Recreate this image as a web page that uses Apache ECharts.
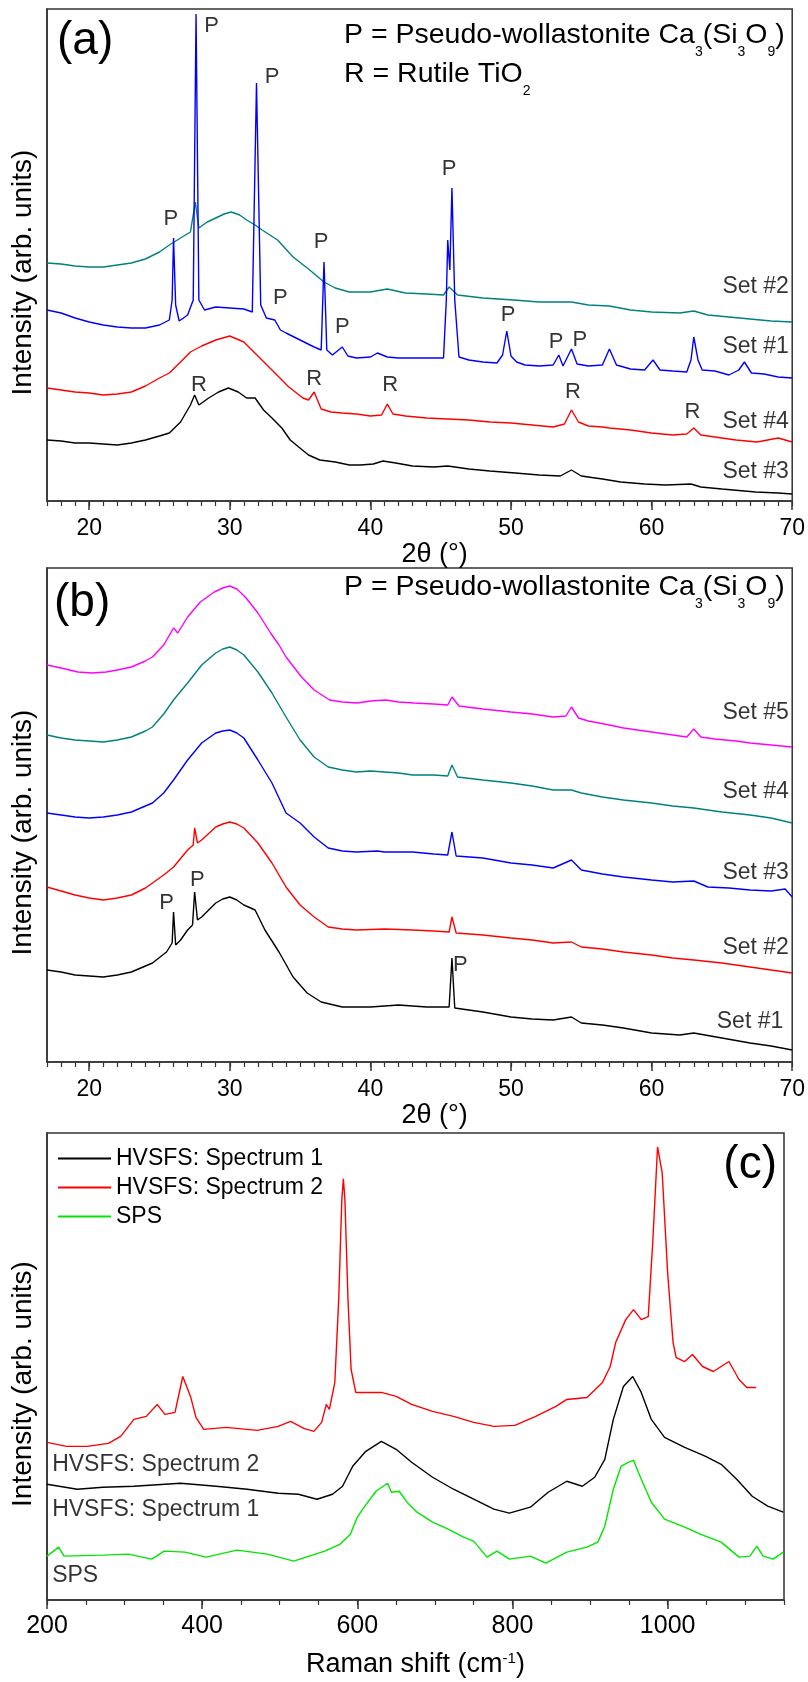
<!DOCTYPE html>
<html><head><meta charset="utf-8">
<script src="https://cdn.jsdelivr.net/npm/echarts@6/dist/echarts.min.js"></script>
<style>html,body{margin:0;padding:0;background:#fff}#c{width:808px;height:1682px}</style>
</head><body><div id="c"></div>
<script>
const FONT = '"Liberation Sans", Arial, sans-serif';

// ---------- Panel (a): XRD, 2θ (°) vs intensity (arb. units, stacked) ----------
const a_ticks = [20, 30, 40, 50, 60, 70];
const a_set3 = [[17,61],[18,60],[19,58],[20,58],[21,57],[22,56],[23,58],[24,61],[25,65],[25.7,68],[26.5,79],[27.2,96],[27.5,106],[27.8,96],[28.5,103],[29.2,109],[29.9,113],[30.6,109],[31.2,103],[31.8,103],[32.4,91],[33,83],[33.7,73],[34.3,61],[34.9,54],[35.6,46],[36.4,41],[37.5,39],[38.5,36],[39.3,36],[40.2,37],[40.9,40],[41.8,38],[43,35],[44.5,34],[45.5,35],[47,32],[48.5,30],[50.3,28],[52,26],[53.5,25],[54.3,31],[55,25],[56.5,22],[57.8,19],[59.5,17],[61,16],[62.8,17],[63.5,14],[65,12],[67.4,9],[69,8],[70,7]];
const a_set4 = [[17,113],[18,111],[19,109],[20,108],[21,106],[22,107],[23,109],[24,115],[25,123],[25.7,128],[26.5,139],[27.2,149],[28,155],[29,161],[30,165],[31,159],[32,145],[33,131],[34.2,114],[35.2,103],[35.6,101],[36.0,109],[36.5,92],[37.2,89],[38,88],[39,87],[40,85],[40.8,86],[41.2,97],[41.6,87],[42.5,85],[44,83],[45.5,82],[47,81],[48.5,79],[50,78],[51.5,76],[53,74],[53.8,77],[54.3,91],[54.8,79],[55.5,75],[56.5,74],[57,73],[58.5,71],[60,68],[61.5,66],[62.5,67],[63,73],[63.5,66],[64.5,64],[66,61],[67.5,59],[69,63],[69.5,61],[70,59]];
const a_set1 = [[17,191],[18,188],[19,183],[20,179],[21,176],[22,174],[23,173],[24,173],[25,176],[25.7,181],[25.9,201],[26.0,263],[26.15,196],[26.4,180],[27,186],[27.4,201],[27.6,487],[27.8,201],[28.2,191],[29,194],[30,193],[31,192],[31.6,189],[31.9,418],[32.2,196],[32.6,183],[33.2,181],[33.6,171],[34,168],[35,161],[36,154],[36.5,151],[36.7,239],[36.9,151],[37.3,146],[38.0,154],[38.4,145],[39,143],[40,144],[40.5,148],[41.2,144],[42,143],[43,143],[44,143],[45.2,143],[45.4,201],[45.5,261],[45.65,231],[45.8,313],[46.0,201],[46.3,144],[47,141],[48,139],[49,138],[49.4,146],[49.7,170],[50.0,145],[50.4,139],[51,136],[52,135],[53,136],[53.4,146],[53.7,135],[54.3,152],[54.7,137],[55.5,135],[56.5,136],[57.0,152],[57.5,136],[58.5,132],[59.5,131],[60.1,141],[60.6,131],[61.5,130],[62.5,129],[62.8,141],[63.0,164],[63.3,141],[63.6,131],[64.5,130],[65.5,126],[66.2,131],[66.6,139],[67.1,128],[68,127],[69,124],[70,123]];
const a_set2 = [[17,238],[18,237],[19,235],[20,234],[21,234],[22,236],[23,238],[24,242],[25,249],[25.7,256],[26.5,263],[27.2,269],[27.55,299],[27.8,273],[28.4,279],[29,283],[29.6,287],[30.1,289],[30.7,286],[31.2,281],[31.8,276],[32.3,271],[33.4,261],[34.5,244],[35.6,232],[36.7,219],[37.5,213],[38.5,209],[40,209],[41.2,212],[42.5,208],[44,207],[45.2,206],[45.6,214],[46.2,206],[48,203],[50.2,201],[52,199],[54.3,199],[55.5,196],[57,195],[58.5,191],[60,189],[62,188],[63,190],[64,186],[65.5,184],[67,182],[68.5,180],[70,179]];
const a_peakLabels = [[28.7,475,'P'],[33.0,424,'P'],[25.8,282,'P'],[36.5,259,'P'],[45.6,332,'P'],[33.6,203,'P'],[38.0,174,'P'],[49.8,186,'P'],[53.2,159,'P'],[54.9,161,'P'],[27.8,116,'R'],[36.0,122,'R'],[41.4,116,'R'],[54.4,109,'R'],[62.9,89,'R']];
const a_setLabels = [[69.8,214,'Set #2'],[69.8,154,'Set #1'],[69.8,79,'Set #4'],[69.8,29,'Set #3']];

// ---------- Panel (b) ----------
const b_ticks = [20, 30, 40, 50, 60, 70];
const b_set5 = [[17,397],[18,394],[19.2,390],[20.2,389],[21.2,390],[22,392],[23,395],[24,401],[24.5,405],[25.3,417],[26.0,434],[26.3,429],[27,445],[27.9,460],[28.9,470],[29.5,474],[30,476],[30.5,473],[31.1,465],[31.5,458],[32,449],[32.9,429],[33.5,417],[34,405],[35.1,385],[36,372],[37.1,362],[38,360],[39.1,359],[40,361],[41.1,362],[42,360],[43.1,359],[44.5,358],[45.5,357],[45.8,365],[46.3,356],[48,353],[50,350],[51.5,348],[53,345],[53.9,346],[54.3,355],[54.8,344],[55.5,341],[57,337],[58,334],[59,332],[60,330],[61.5,327],[62.5,325],[63,333],[63.5,325],[64.5,323],[66,321],[67,319],[68.5,317],[70,315]];
const b_set4 = [[17,327],[18,324],[19,322],[20,321],[21,320],[22,322],[23,325],[24,331],[24.5,335],[25.3,348],[26,362],[27,379],[28,397],[29,409],[29.5,413],[30,415],[30.5,412],[31,407],[32,390],[33,369],[34,345],[35,322],[36,305],[37,295],[38,292],[39,290],[40,291],[41,290],[42,289],[43,287],[44.5,287],[45.5,286],[45.8,297],[46.2,285],[48,282],[50,279],[51.5,276],[53,272],[54.3,272],[55,269],[56.5,265],[58,262],[60,259],[61.5,256],[63,254],[65,250],[67,247],[68.5,244],[70,239]];
const b_set3 = [[17,249],[18,247],[19,245],[20,244],[21,245],[22,247],[23,250],[24,256],[24.5,259],[25.3,269],[26,282],[27,302],[28,319],[29,329],[29.5,331],[30,332],[30.5,329],[31,324],[32,302],[33,279],[34,249],[35,239],[36,225],[37,214],[38,211],[39,210],[40.5,211],[41,210],[43,210],[44.5,208],[45.5,207],[45.8,230],[46.1,206],[48,204],[50,199],[51.5,197],[53,194],[54.3,202],[55,192],[56.5,188],[58,185],[60,182],[61.5,180],[63,181],[64,175],[65.5,174],[67,172],[68.5,171],[69.5,173],[70,165]];
const b_set2 = [[17,175],[18,171],[19,167],[20,164],[21,162],[22,164],[23,167],[24,174],[24.5,179],[25.3,187],[26,195],[27,212],[27.4,217],[27.5,234],[27.7,219],[28,222],[29,235],[29.5,238],[30,240],[30.5,238],[31,234],[32,219],[33,199],[34,175],[35,157],[36,145],[37,135],[38,133],[39,132],[41,133],[43,132],[44.5,131],[45.6,130],[45.8,145],[46.1,129],[48,127],[50,124],[51.5,122],[53,119],[54.3,120],[55,115],[56.5,113],[58,110],[60,107],[61.5,104],[63,102],[65,99],[67,95],[68.5,92],[70,89]];
const b_set1 = [[17,92],[18,90],[19,87],[20,86],[21,85],[22,87],[23,90],[24,96],[24.5,99],[25.5,110],[25.9,119],[26.0,150],[26.15,117],[26.5,122],[27,132],[27.35,137],[27.5,170],[27.7,142],[28,145],[29,159],[29.5,163],[30,165],[30.5,162],[31,157],[31.8,152],[32.5,132],[33.5,110],[34.5,85],[35.5,69],[36.5,60],[38,55],[40,55],[42,57],[44,55],[45.6,55],[45.8,104],[46.0,54],[48,50],[50,45],[51.5,43],[53,42],[54.3,45],[55,39],[56.5,37],[58,34],[60,29],[62,27],[63,29],[65,24],[67,19],[68.5,16],[70,12]];
const b_peakLabels = [[25.5,159,'P'],[27.7,182,'P'],[46.4,97,'P']];
const b_setLabels = [[69.8,349,'Set #5'],[69.8,270,'Set #4'],[69.8,189,'Set #3'],[69.8,114,'Set #2'],[69.4,40,'Set #1']];

// ---------- Panel (c): Raman ----------
const c_ticks = [200, 400, 600, 800, 1000];
const c_spec2 = [[200,158],[225,154],[252,154],[279,157],[295,164],[312,181],[328,184],[342,196],[352,186],[365,188],[375,224],[385,204],[392,183],[402,171],[431,173],[471,170],[498,174],[514,179],[531,172],[544,169],[554,178],[560,196],[564,191],[571,218],[576,301],[580,401],[582,422],[584,401],[588,301],[592,231],[598,208],[604,208],[631,208],[650,204],[670,196],[697,189],[724,184],[750,178],[776,174],[803,175],[830,184],[856,194],[870,201],[896,203],[916,218],[926,234],[933,258],[946,281],[956,291],[966,281],[975,284],[981,361],[987,454],[993,428],[1000,328],[1007,258],[1011,243],[1022,239],[1032,246],[1045,234],[1059,229],[1079,239],[1092,221],[1102,213],[1114,213]];
const c_spec1 = [[200,116],[239,111],[272,113],[312,114],[372,117],[418,114],[458,111],[498,107],[524,106],[548,101],[568,106],[581,114],[594,134],[611,149],[631,159],[650,151],[670,138],[697,123],[724,111],[750,101],[776,91],[796,87],[823,93],[846,108],[870,119],[890,114],[906,123],[919,141],[930,181],[943,214],[955,224],[966,208],[979,181],[996,163],[1022,153],[1049,144],[1069,136],[1089,121],[1109,104],[1129,94],[1149,88]];
const c_sps = [[200,44],[215,53],[222,44],[272,45],[305,46],[335,41],[351,49],[378,48],[405,43],[445,50],[484,46],[518,39],[538,44],[558,49],[578,56],[591,66],[600,83],[607,91],[624,109],[639,117],[644,108],[654,109],[664,98],[677,88],[697,78],[717,71],[737,63],[750,59],[767,43],[780,49],[796,41],[823,44],[843,37],[870,48],[896,53],[910,58],[919,74],[930,111],[940,134],[949,138],[956,140],[966,121],[979,98],[996,81],[1022,73],[1042,66],[1069,58],[1092,43],[1106,44],[1115,54],[1123,44],[1136,41],[1149,48]];
const c_curveLabels = [[206,136,'HVSFS: Spectrum 2'],[206,91,'HVSFS: Spectrum 1'],[206,24,'SPS']];
const c_names = ['HVSFS: Spectrum 1', 'HVSFS: Spectrum 2', 'SPS'];

const AX = '#333';
const grids = [
  {left: 47, top: 9, width: 746, height: 492},
  {left: 47, top: 568, width: 746, height: 494},
  {left: 47, top: 1133, width: 737, height: 468}
].map(g => Object.assign(g, {show: true, borderColor: AX, borderWidth: 1.5, backgroundColor: 'transparent'}));
const yMax = [492, 494, 468];

function majorX(grid, min, max, ticks, fs, margin, name, nameGap, namePad, rich) {
  return {type: 'value', gridIndex: grid, min, max, position: 'bottom',
    axisLine: {show: true, onZero: false, lineStyle: {color: AX, width: 1.5}},
    axisTick: {show: true, length: 9, customValues: ticks, lineStyle: {color: AX, width: 1.5}},
    axisLabel: {show: true, customValues: ticks, formatter: v => String(v), fontSize: fs, fontFamily: FONT, color: '#000', margin},
    splitLine: {show: false},
    name, nameLocation: 'middle', nameGap,
    nameTextStyle: Object.assign({fontSize: 27, fontFamily: FONT, color: '#000', padding: namePad, lineHeight: 28}, rich ? {rich} : {})};
}
function minorX(grid, min, max, step) {
  return {type: 'value', gridIndex: grid, min, max, interval: step, position: 'bottom',
    axisLine: {show: false, onZero: false}, axisTick: {show: true, length: 5, lineStyle: {color: AX, width: 1.2}},
    axisLabel: {show: false}, splitLine: {show: false}};
}
function yAx(grid, max) {
  return {type: 'value', gridIndex: grid, min: 0, max,
    axisLine: {show: true, lineStyle: {color: AX, width: 1.5}}, axisTick: {show: false}, axisLabel: {show: false},
    splitLine: {show: false}, name: 'Intensity (arb. units)', nameLocation: 'middle', nameGap: 10, nameRotate: 90,
    nameTextStyle: {fontSize: 28, fontFamily: FONT, color: '#000', padding: [0, 35, 0, 0]}};
}
function line(name, data, color, xi, yi) {
  return {type: 'line', name, data, xAxisIndex: xi, yAxisIndex: yi, showSymbol: false, symbol: 'none',
    lineStyle: {color, width: 1.4}, itemStyle: {color}, silent: true, animation: false};
}
function labels(data, xi, yi, pos, size) {
  return {type: 'scatter', data, xAxisIndex: xi, yAxisIndex: yi, symbolSize: 1,
    itemStyle: {color: 'rgba(0,0,0,0)'}, silent: true, animation: false, z: 5,
    label: {show: true, position: pos, distance: 0, formatter: p => p.value[2], color: '#000', fontSize: size, fontFamily: FONT}};
}
const subRich = {
  m: {fontSize: 28.5, lineHeight: 28, verticalAlign: 'top', fontFamily: FONT, fill: '#000'},
  s: {fontSize: 14, lineHeight: 14, padding: [24, 0, 0, 0], verticalAlign: 'top', fontFamily: FONT, fill: '#000'}
};

const option = {
  animation: false,
  backgroundColor: '#fff',
  grid: grids,
  xAxis: [
    majorX(0, 17, 70, a_ticks, 23, 16, '2θ (°)', 21, [0, 0, 0, 30]),
    minorX(0, 17, 70, 1),
    majorX(1, 17, 70, b_ticks, 23, 16, '2θ (°)', 21, [0, 0, 0, 30]),
    minorX(1, 17, 70, 1),
    majorX(2, 200, 1150, c_ticks, 25, 14, '{m|Raman shift (cm}{s|-1}{m|)}', 51, [0, 0, 0, 0],
      {m: {fontSize: 27, lineHeight: 30, verticalAlign: 'top', fontFamily: FONT, color: '#000'},
       s: {fontSize: 15, lineHeight: 16, verticalAlign: 'top', fontFamily: FONT, color: '#000'}}),
    minorX(2, 200, 1150, 50)
  ],
  yAxis: [yAx(0, yMax[0]), yAx(1, yMax[1]), yAx(2, yMax[2])],
  legend: {data: c_names, orient: 'vertical', left: 53, top: 1139, itemWidth: 53, itemHeight: 2, itemGap: 0,
    icon: 'rect', selectedMode: false,
    textStyle: {fontSize: 23, fontFamily: FONT, color: '#000', lineHeight: 29}},
  series: [
    line('a Set #3', a_set3, '#000000', 0, 0),
    line('a Set #4', a_set4, '#ff0000', 0, 0),
    line('a Set #2', a_set2, '#008080', 0, 0),
    line('a Set #1', a_set1, '#0000ff', 0, 0),
    labels(a_peakLabels, 0, 0, 'inside', 22),
    labels(a_setLabels, 0, 0, 'left', 23),
    line('b Set #5', b_set5, '#ff00ff', 2, 1),
    line('b Set #4', b_set4, '#008080', 2, 1),
    line('b Set #3', b_set3, '#0000ff', 2, 1),
    line('b Set #2', b_set2, '#ff0000', 2, 1),
    line('b Set #1', b_set1, '#000000', 2, 1),
    labels(b_peakLabels, 2, 1, 'inside', 22),
    labels(b_setLabels, 2, 1, 'left', 23),
    line(c_names[0], c_spec1, '#000000', 4, 2),
    line(c_names[1], c_spec2, '#ff0000', 4, 2),
    line(c_names[2], c_sps, '#00e600', 4, 2),
    labels(c_curveLabels, 4, 2, 'right', 23)
  ],
  graphic: [
    {type: 'text', x: 57, y: 41, style: {text: '(a)', fontSize: 46, fontFamily: FONT, fill: '#000', align: 'left', verticalAlign: 'middle'}},
    {type: 'text', x: 54, y: 603, style: {text: '(b)', fontSize: 46, fontFamily: FONT, fill: '#000', align: 'left', verticalAlign: 'middle'}},
    {type: 'text', x: 777, y: 1165, style: {text: '(c)', fontSize: 46, fontFamily: FONT, fill: '#000', align: 'right', verticalAlign: 'middle'}},
    {type: 'text', x: 344, y: 21, style: {text: '{m|P = Pseudo-wollastonite Ca}{s|3}{m|(Si}{s|3}{m|O}{s|9}{m|)}', align: 'left', verticalAlign: 'top', rich: subRich}},
    {type: 'text', x: 344, y: 60, style: {text: '{m|R = Rutile TiO}{s|2}', align: 'left', verticalAlign: 'top', rich: subRich}},
    {type: 'text', x: 344, y: 573, style: {text: '{m|P = Pseudo-wollastonite Ca}{s|3}{m|(Si}{s|3}{m|O}{s|9}{m|)}', align: 'left', verticalAlign: 'top', rich: subRich}}
  ]
};
const chart = echarts.init(document.getElementById('c'), null, {renderer: 'canvas'});
chart.setOption(option);
</script>
</body></html>
